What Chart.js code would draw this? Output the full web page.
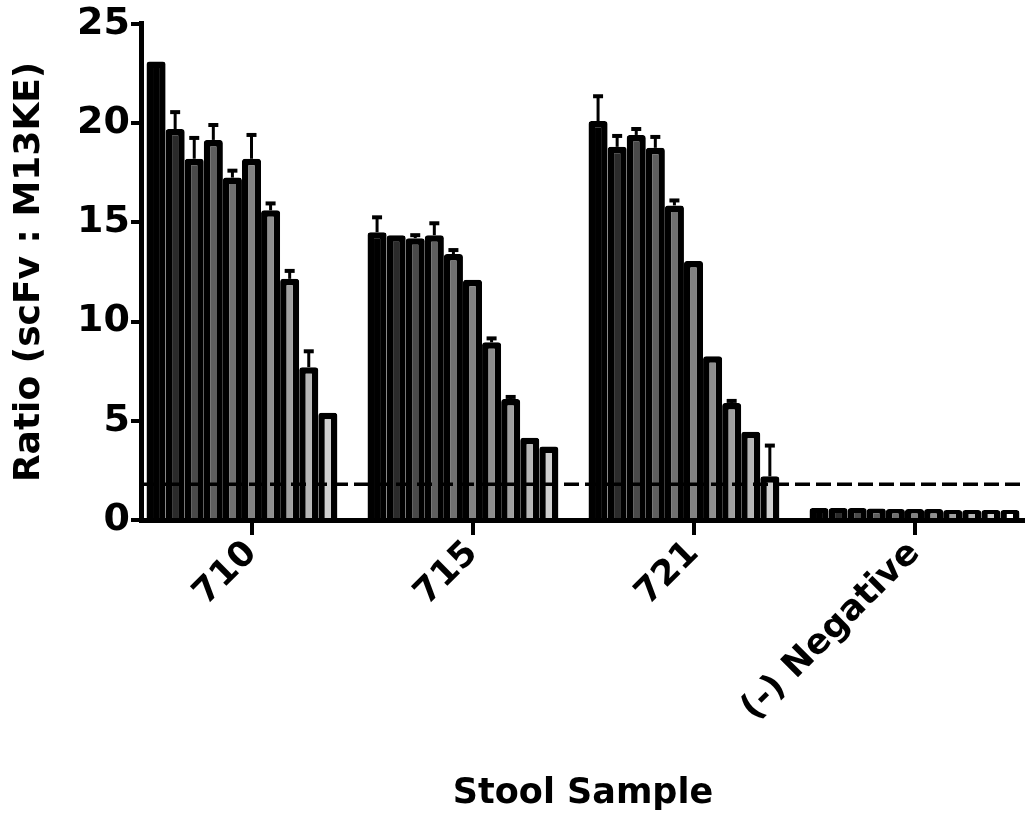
<!DOCTYPE html>
<html>
<head>
<meta charset="utf-8">
<script src="https://cdn.jsdelivr.net/npm/chart.js@4.4.0/dist/chart.umd.min.js"></script>
<style>
  html, body { margin: 0; padding: 0; background: #fff; }
</style>
</head>
<body>
<canvas id="grafico" width="1025" height="813"></canvas>
<script>
// Categories on the x axis
const amostras = ['710', '715', '721', '(-) Negative'];

// Mean ratio of each of the 11 bars, one array per stool sample (null = no bar)
const medias710 = [23.1, 19.7, 18.2, 19.15, 17.25, 18.2, 15.6, 12.15, 7.7, 5.4, null];
const medias715 = [14.5, 14.35, 14.2, 14.35, 13.4, 12.1, 8.95, 6.1, 4.15, 3.7, null];
const medias721 = [20.1, 18.8, 19.4, 18.75, 15.85, 13.05, 8.25, 5.9, 4.45, 2.2, null];
const mediasNeg = [0.6, 0.6, 0.6, 0.58, 0.55, 0.55, 0.55, 0.5, 0.5, 0.5, 0.5];

// Upper error bars (same order)
const erros710 = [0, 0.85, 1.05, 0.75, 0.35, 1.2, 0.35, 0.4, 0.8, 0, 0];
const erros715 = [0.75, 0, 0.15, 0.6, 0.2, 0, 0.2, 0.1, 0, 0, 0];
const erros721 = [1.25, 0.55, 0.3, 0.55, 0.25, 0, 0, 0.1, 0, 1.55, 0];
const errosNeg = [0, 0, 0, 0, 0, 0, 0, 0, 0, 0, 0];

// Dashed cut-off line
const limiar = 1.8;

// Y axis ticks
const yMin = 0;
const yMax = 25;
const yPasso = 5;

// Grey shades from black to white, one per bar position
const cores = ['#000000', '#2b2b2b', '#4a4a4a', '#5f5f5f', '#707070', '#828282',
               '#8f8f8f', '#a0a0a0', '#b6b6b6', '#d0d0d0', '#ffffff'];

const fonte = { family: 'DejaVu Sans', weight: 'bold', size: 35 };

// Build one dataset per bar position
const datasets = cores.map((cor, i) => ({
    label: 'Bar ' + (i + 1),
    data: [medias710[i], medias715[i], medias721[i], mediasNeg[i]],
    erros: [erros710[i], erros715[i], erros721[i], errosNeg[i]],
    backgroundColor: cor,
    borderColor: '#000',
    borderWidth: 6.5,
    borderRadius: { topLeft: 3, topRight: 3 },
    borderSkipped: 'start'
}));

// Plugin for the error bars and the dashed line
const extras = {
    id: 'extras',
    afterDatasetsDraw(chart) {
        const ctx = chart.ctx;
        const y = chart.scales.y;
        const area = chart.chartArea;
        ctx.save();
        ctx.strokeStyle = '#000';
        chart.data.datasets.forEach((ds, i) => {
            const meta = chart.getDatasetMeta(i);
            meta.data.forEach((bar, j) => {
                const v = ds.data[j];
                const e = ds.erros[j];
                if (v == null || !e) return;
                const topo = y.getPixelForValue(v + e);
                ctx.lineWidth = 3;
                ctx.beginPath();
                ctx.moveTo(bar.x, bar.y);
                ctx.lineTo(bar.x, topo);
                ctx.stroke();
                ctx.lineWidth = 4;
                ctx.beginPath();
                ctx.moveTo(bar.x - 5, topo);
                ctx.lineTo(bar.x + 5, topo);
                ctx.stroke();
            });
        });
        // dashed line
        const yl = y.getPixelForValue(limiar);
        ctx.lineWidth = 3.5;
        ctx.setLineDash([15, 6]);
        ctx.beginPath();
        ctx.moveTo(area.left + 3, yl);
        ctx.lineTo(area.right, yl);
        ctx.stroke();
        ctx.restore();
    }
};

new Chart(document.getElementById('grafico'), {
    type: 'bar',
    data: { labels: amostras, datasets: datasets },
    plugins: [extras],
    options: {
        responsive: false,
        animation: false,
        devicePixelRatio: 1,
        layout: { padding: { top: 1, right: 0, bottom: 0, left: 0 } },
        plugins: { legend: { display: false }, tooltip: { enabled: false } },
        datasets: { bar: { categoryPercentage: 0.95, barPercentage: 1 } },
        scales: {
            x: {
                grid: { drawOnChartArea: false, offset: false, color: '#000', lineWidth: 4, tickLength: 15 },
                border: { color: '#000', width: 5 },
                ticks: { color: '#000', font: fonte, minRotation: 45, maxRotation: 45, padding: -2 },
                title: { display: true, text: 'Stool Sample', color: '#000', font: fonte, padding: { top: 0, bottom: -2 } },
                afterFit: (s) => { s.height = 293; }
            },
            y: {
                min: yMin,
                max: yMax,
                grid: { drawOnChartArea: false, color: '#000', lineWidth: 4, tickLength: 10 },
                border: { color: '#000', width: 5 },
                ticks: { stepSize: yPasso, color: '#000', font: { family: 'DejaVu Sans', weight: 'bold', size: 38 }, padding: 1 },
                title: { display: true, text: 'Ratio (scFv : M13KE)', color: '#000',
                         font: { family: 'DejaVu Sans', weight: 'bold', size: 36 }, padding: { top: 8, bottom: 0 } },
                afterFit: (s) => { s.width = 141; }
            }
        }
    }
});
</script>
</body>
</html>
